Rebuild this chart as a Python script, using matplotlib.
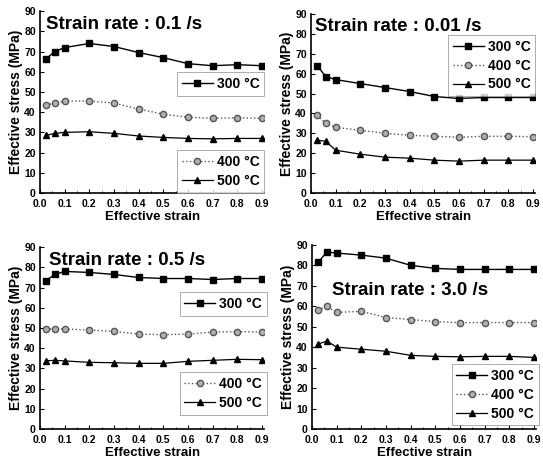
import numpy as np
import matplotlib
matplotlib.use('Agg')
import matplotlib.pyplot as plt

plt.rcParams['font.family'] = 'Liberation Sans'
plt.rcParams['font.weight'] = 'bold'

# effective strain points (same for every panel)
strain = [0.025, 0.06, 0.1, 0.2, 0.3, 0.4, 0.5, 0.6, 0.7, 0.8, 0.9]

# strain rate 0.1 /s
r01_300 = [66.5, 70, 72, 74, 72.5, 69.5, 67, 64, 63, 63.5, 63]
r01_400 = [43.5, 44.5, 45.5, 45.5, 44.5, 41.5, 39, 37.5, 37, 37.2, 37]
r01_500 = [28.5, 29.5, 30, 30.3, 29.5, 28.2, 27.5, 27, 26.8, 27, 27]

# strain rate 0.01 /s
r001_300 = [64, 58.5, 57, 55, 53, 51, 48.5, 47.5, 48, 48, 48]
r001_400 = [39, 35, 33, 31.5, 30, 29, 28.5, 28, 28.5, 28.5, 28.3]
r001_500 = [26.5, 26, 21.5, 19.5, 18, 17.5, 16.5, 16, 16.5, 16.5, 16.5]

# strain rate 0.5 /s
r05_300 = [73.5, 76.5, 78, 77.5, 76.5, 75, 74.5, 74.5, 74, 74.5, 74.5]
r05_400 = [49.5, 49.7, 49.5, 49, 48.3, 47, 46.7, 47, 48, 48.2, 48]
r05_500 = [33.8, 34, 33.7, 33, 32.8, 32.5, 32.5, 33.5, 34, 34.5, 34.3]

# strain rate 3.0 /s
r30_300 = [81.5, 86.5, 86, 85, 83.5, 80, 78.5, 78, 78, 78, 78]
r30_400 = [58, 60, 57, 57.5, 54.5, 53.5, 52.5, 52, 52, 52, 52]
r30_500 = [41.5, 43, 40, 39, 38, 36, 35.5, 35.3, 35.5, 35.5, 35]

labels = ['300 °C', '400 °C', '500 °C']

fig = plt.figure(figsize=(5.43, 4.65), dpi=100)

panels = [
    # rect, title, data, title pos, legend layout
    ([0.0737, 0.585, 0.4134, 0.391], 'Strain rate : 0.1 /s', (r01_300, r01_400, r01_500), (0.025, 0.975), 'split1'),
    ([0.5727, 0.585, 0.4134, 0.385], 'Strain rate : 0.01 /s', (r001_300, r001_400, r001_500), (0.02, 0.975), 'top'),
    ([0.0737, 0.0774, 0.4134, 0.391], 'Strain rate : 0.5 /s', (r05_300, r05_400, r05_500), (0.04, 0.975), 'split3'),
    ([0.5746, 0.0774, 0.4134, 0.396], 'Strain rate : 3.0 /s', (r30_300, r30_400, r30_500), (0.09, 0.80), 'bottom'),
]

for rect, title, (s300, s400, s500), tpos, leg in panels:
    ax = fig.add_axes(rect)
    l1, = ax.plot(strain, s300, '-', color='black', lw=1.0, marker='s', ms=4.5, mfc='black', mec='black')
    l2, = ax.plot(strain, s400, ':', color='#555555', lw=1.0, marker='o', ms=4.5, mfc='#b0b0b0', mec='#555555')
    l3, = ax.plot(strain, s500, '-', color='black', lw=0.9, marker='^', ms=5, mfc='black', mec='black')

    ax.set_xlim(0, 0.91)
    ax.set_ylim(0, 90)
    ax.set_xticks(np.arange(0, 0.91, 0.1))
    ax.set_xticklabels(['%.1f' % v for v in np.arange(0, 0.91, 0.1)])
    ax.set_yticks(range(0, 91, 10))
    ax.set_xticks(np.arange(0.05, 0.91, 0.1), minor=True)
    ax.tick_params(direction='in', labelsize=7.5, length=3, width=0.8)
    ax.tick_params(axis='x', pad=4)
    ax.tick_params(axis='y', pad=3)
    ax.tick_params(which='minor', direction='in', length=1.5)
    for lab in ax.get_xticklabels() + ax.get_yticklabels():
        lab.set_fontweight('bold')
    ax.spines['top'].set_visible(False)
    ax.spines['right'].set_visible(False)
    ax.spines['left'].set_linewidth(1.2)
    ax.spines['bottom'].set_linewidth(1.2)

    ax.set_xlabel('Effective strain', fontsize=9.5, fontweight='bold', labelpad=2)
    ax.set_ylabel('Effective stress (MPa)', fontsize=10, fontweight='bold', labelpad=1)
    ax.text(tpos[0], tpos[1], title, transform=ax.transAxes, fontsize=13.5,
            fontweight='bold', va='top', ha='left')

    kw = dict(frameon=True, fancybox=False, edgecolor='#888888',
              handlelength=2.2, handletextpad=0.3, borderpad=0.35,
              labelspacing=0.35, borderaxespad=0.0,
              prop={'weight': 'bold', 'size': 10})
    if leg == 'split1':
        lg = ax.legend([l1], [labels[0]], loc='upper right', bbox_to_anchor=(1.0, 0.665), **kw)
        lg.get_frame().set_linewidth(0.6)
        ax.add_artist(lg)
        lg2 = ax.legend([l2, l3], labels[1:], loc='lower right', bbox_to_anchor=(1.0, 0.0), **kw)
        lg2.get_frame().set_linewidth(0.6)
    elif leg == 'split3':
        lg = ax.legend([l1], [labels[0]], loc='upper right', bbox_to_anchor=(1.01, 0.753), **kw)
        lg.get_frame().set_linewidth(0.6)
        ax.add_artist(lg)
        lg2 = ax.legend([l2, l3], labels[1:], loc='upper right', bbox_to_anchor=(1.01, 0.313), **kw)
        lg2.get_frame().set_linewidth(0.6)
    elif leg == 'top':
        lg = ax.legend([l1, l2, l3], labels, loc='upper right', bbox_to_anchor=(1.0, 0.883), **kw)
        lg.get_frame().set_linewidth(0.6)
    else:
        lg = ax.legend([l1, l2, l3], labels, loc='upper right', bbox_to_anchor=(1.01, 0.353), **kw)
        lg.get_frame().set_linewidth(0.6)

fig.savefig('out.png', dpi=100)
